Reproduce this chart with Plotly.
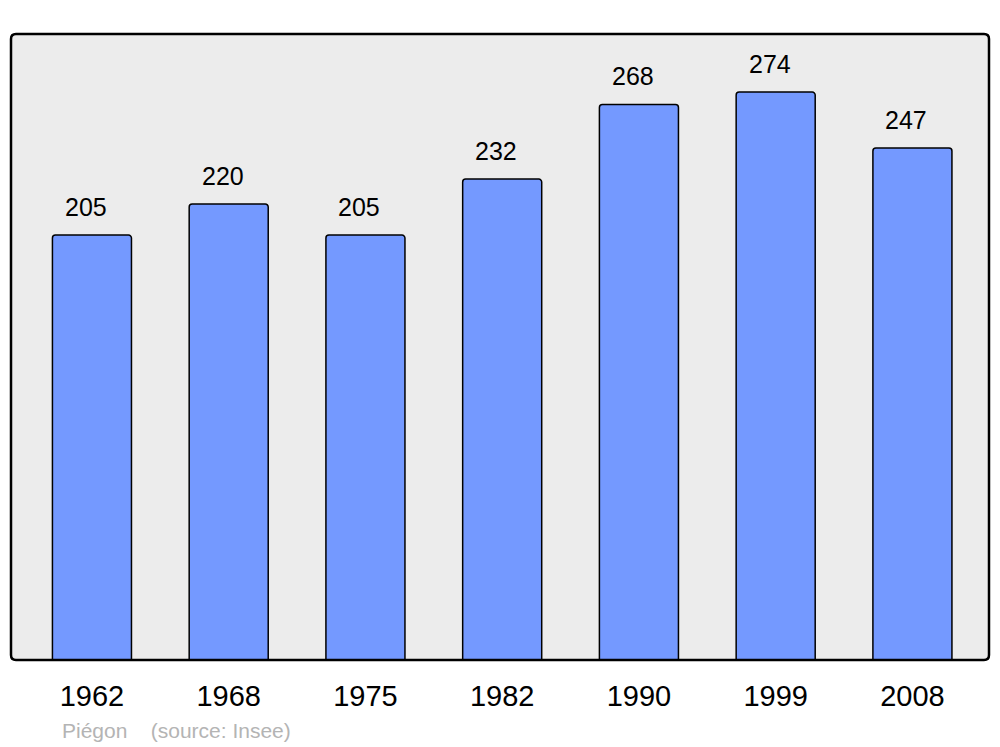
import plotly.graph_objects as go

years = ["1962", "1968", "1975", "1982", "1990", "1999", "2008"]
population = [205, 220, 205, 232, 268, 274, 247]

W, H = 1000, 747
L, R, T, B = 11, 11, 34, 87
pw, ph = W - L - R, H - T - B
FONT = "Liberation Sans, Arial, sans-serif"

fig = go.Figure()
fig.add_trace(go.Bar(
    x=list(range(len(years))), y=population, width=0.578,
    marker=dict(color="#7499ff", line=dict(color="black", width=1.5), cornerradius=3),
    hoverinfo="skip",
))

for i, v in enumerate(population):
    fig.add_annotation(x=i, y=v, text=str(v), showarrow=False, yanchor="bottom",
                       yshift=12, xshift=-6, font=dict(size=25, color="black", family=FONT))

rx, ry = 5 / pw, 5 / ph
path = (f"M {rx},0 L {1-rx},0 Q 1,0 1,{ry} L 1,{1-ry} Q 1,1 {1-rx},1 "
        f"L {rx},1 Q 0,1 0,{1-ry} L 0,{ry} Q 0,0 {rx},0 Z")
fig.add_shape(type="path", xref="paper", yref="paper", path=path,
              line=dict(color="black", width=2.5), layer="above")

fig.add_annotation(x=(60 - L) / pw, y=(660 - 730) / ph, xref="paper", yref="paper",
                   text="Piégon&nbsp;&nbsp;&nbsp;&nbsp;(source: Insee)", showarrow=False,
                   xanchor="left", yanchor="middle",
                   font=dict(size=21, color="#b4b4b4", family=FONT))

fig.update_layout(
    width=W, height=H,
    margin=dict(l=L, r=R, t=T, b=B),
    paper_bgcolor="white", plot_bgcolor="#ececec",
    showlegend=False,
    font=dict(family=FONT, color="black"),
    xaxis=dict(range=[-0.592, 6.56], tickmode="array", tickvals=list(range(len(years))),
               ticktext=years, tickfont=dict(size=29), ticks="outside", ticklen=10,
               tickcolor="rgba(0,0,0,0)", showgrid=False, zeroline=False, fixedrange=True),
    yaxis=dict(range=[0, 302], showticklabels=False, showgrid=False, zeroline=False,
               fixedrange=True),
)

fig.write_html("out.html", config={"displayModeBar": False},
               post_script="document.body.style.margin='0';document.body.style.overflow='hidden';")
